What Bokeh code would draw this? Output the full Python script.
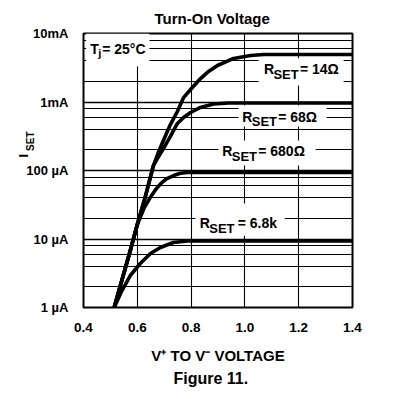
import math
from bokeh.plotting import figure
from bokeh.models import FixedTicker, Label, BoxAnnotation, Title
from bokeh.embed import file_html
from bokeh.resources import INLINE

# ---------------- data ----------------
x_ticks = [0.4, 0.6, 0.8, 1.0, 1.2, 1.4]
x_tick_labels = ["0.4", "0.6", "0.8", "1.0", "1.2", "1.4"]
y_ticks = [1, 10, 100, 1000, 10000]            # microamps
y_tick_labels = ["1 µA", "10 µA", "100 µA", "1mA", "10mA"]
y_minor = [2, 4, 6, 8, 20, 40, 60, 80, 200, 400, 600, 800, 2000, 4000, 6000, 8000]

# R_SET = 14 ohm (V, uA)
v_14 = [0.514, 0.574, 0.600, 0.630, 0.660, 0.678, 0.697, 0.723, 0.749, 0.772, 0.798,
        0.835, 0.865, 0.898, 0.958, 1.021, 1.07, 1.4]
i_14 = [1.0, 6.8, 16.3, 41.7, 118, 183, 274, 469, 727, 1160, 1520,
        2200, 2790, 3410, 4320, 4780, 4930, 4930]
# R_SET = 68 ohm
v_68 = [0.514, 0.574, 0.600, 0.630, 0.660, 0.675, 0.693, 0.723, 0.749, 0.772, 0.798,
        0.835, 0.883, 0.939, 1.4]
i_68 = [1.0, 6.8, 16.3, 41.7, 118, 150, 196, 314, 486, 594, 703,
        832, 935, 965, 965]
# R_SET = 680 ohm
v_680 = [0.514, 0.574, 0.600, 0.626, 0.649, 0.667, 0.686, 0.708, 0.735, 0.760, 0.786, 1.4]
i_680 = [1.0, 6.8, 16.3, 28.8, 40.8, 51.9, 63.9, 75.2, 84.5, 91.0, 93.5, 93.5]
# R_SET = 6.8k
v_6k8 = [0.514, 0.543, 0.574, 0.611, 0.649, 0.686, 0.734, 0.786, 1.4]
i_6k8 = [1.0, 1.77, 2.93, 4.39, 6.14, 7.51, 8.89, 9.35, 9.35]

curve_names = ["14Ω", "68Ω", "680Ω", "6.8k"]

# ---------------- figure ----------------
FR = "Liberation Sans"

p = figure(width=387, height=391, output_backend="svg", toolbar_location=None,
           x_range=(0.4, 1.4), y_range=(1, 10000), y_axis_type="log",
           min_border_left=83, min_border_right=35, min_border_top=33, min_border_bottom=84)
p.background_fill_color = "white"
p.border_fill_color = "white"
p.outline_line_color = "black"
p.outline_line_width = 2

p.title.text = "Turn-On Voltage"
p.title.align = "left"
p.title.offset = 71
p.title.text_font = FR
p.title.text_font_size = "15px"
p.title.text_font_style = "bold"
p.title.text_color = "black"
p.title.standoff = 14

p.xaxis.ticker = FixedTicker(ticks=x_ticks, minor_ticks=[])
p.xaxis.major_label_overrides = {t: s for t, s in zip(x_ticks, x_tick_labels)}
p.yaxis.ticker = FixedTicker(ticks=y_ticks, minor_ticks=y_minor)
p.yaxis.major_label_overrides = {t: s for t, s in zip(y_ticks, y_tick_labels)}

for ax in (p.xaxis, p.yaxis):
    ax.axis_line_color = None
    ax.major_tick_line_color = None
    ax.minor_tick_line_color = None
    ax.major_label_text_font = FR
    ax.major_label_text_font_style = "bold"
    ax.major_label_text_color = "black"
p.xaxis.major_label_text_font_size = "13.5px"
p.xaxis.major_label_standoff = 9
p.yaxis.major_label_text_font_size = "13px"
p.yaxis.major_label_standoff = 9

p.xaxis.axis_label = "V\u207a TO V\u207b VOLTAGE"
p.xaxis.axis_label_text_font = FR
p.xaxis.axis_label_text_font_size = "15px"
p.xaxis.axis_label_text_font_style = "bold"
p.xaxis.axis_label_text_color = "black"
p.xaxis.axis_label_standoff = 12

cap = Title(text="Figure 11.", align="left", offset=90, text_font=FR, text_font_size="16px",
            text_font_style="bold", text_color="black", standoff=3)
p.add_layout(cap, "below")

p.xgrid.grid_line_color = "black"
p.xgrid.grid_line_width = 1.1
p.ygrid.grid_line_color = "black"
p.ygrid.grid_line_width = 1.4
p.ygrid.minor_grid_line_color = "black"
p.ygrid.minor_grid_line_width = 1.2

# white label boxes that interrupt the grid
boxes = [
    (0.41, 0.645, 3300, 10000),   # Tj
    (1.051, 1.367, 1740, 4350),   # 14 ohm
    (0.977, 1.304, 439, 890),     # 68 ohm
    (0.902, 1.263, 118, 274),     # 680 ohm
    (0.816, 1.148, 11.2, 33),     # 6.8k
]
for l, r, b, t in boxes:
    p.add_layout(BoxAnnotation(left=l, right=r, bottom=b, top=t, fill_color="white",
                               fill_alpha=1.0, line_color=None, level="underlay"))

for vx, iy in [(v_14, i_14), (v_68, i_68), (v_680, i_680), (v_6k8, i_6k8)]:
    p.line(vx, iy, line_color="black", line_width=3.6, line_join="round", line_cap="round")


def mk(text, x, y, size, xo=0, yo=0, angle=0.0):
    return Label(x=x, y=y, x_offset=xo, y_offset=yo, text=text, text_font=FR,
                 text_font_size=f"{size}px", text_font_style="bold", angle=angle,
                 text_align="left", text_baseline="middle", text_color="black")


def lab(*a, **k):
    p.add_layout(mk(*a, **k))


# R_SET labels
rset_pos = [(1.0706, 2982, 36), (0.990, 614, 36), (0.9157, 190.6, 36), (0.8322, 17.1, 38)]
for name, (x, y, eq) in zip(curve_names, rset_pos):
    lab("R", x, y, 14)
    lab("SET", x, y, 13, xo=9.5, yo=-5)
    lab("= " + name, x, y, 14, xo=eq)

# Tj label
lab("T", 0.4249, 5902, 14)
lab("j", 0.4249, 5902, 11, xo=8, yo=-4)
lab("= 25°C", 0.4249, 5902, 14, xo=12)

# rotated y label (I with subscript SET); hosted in the (empty) right side panel so it
# is not clipped by the frame and does not widen the left border
p.add_layout(mk("I", 0.4, 155, 13, xo=-60, angle=math.pi / 2), "right")
p.add_layout(mk("SET", 0.4, 193, 10, xo=-53, angle=math.pi / 2), "right")

open("out.html", "w").write(file_html(p, INLINE))
